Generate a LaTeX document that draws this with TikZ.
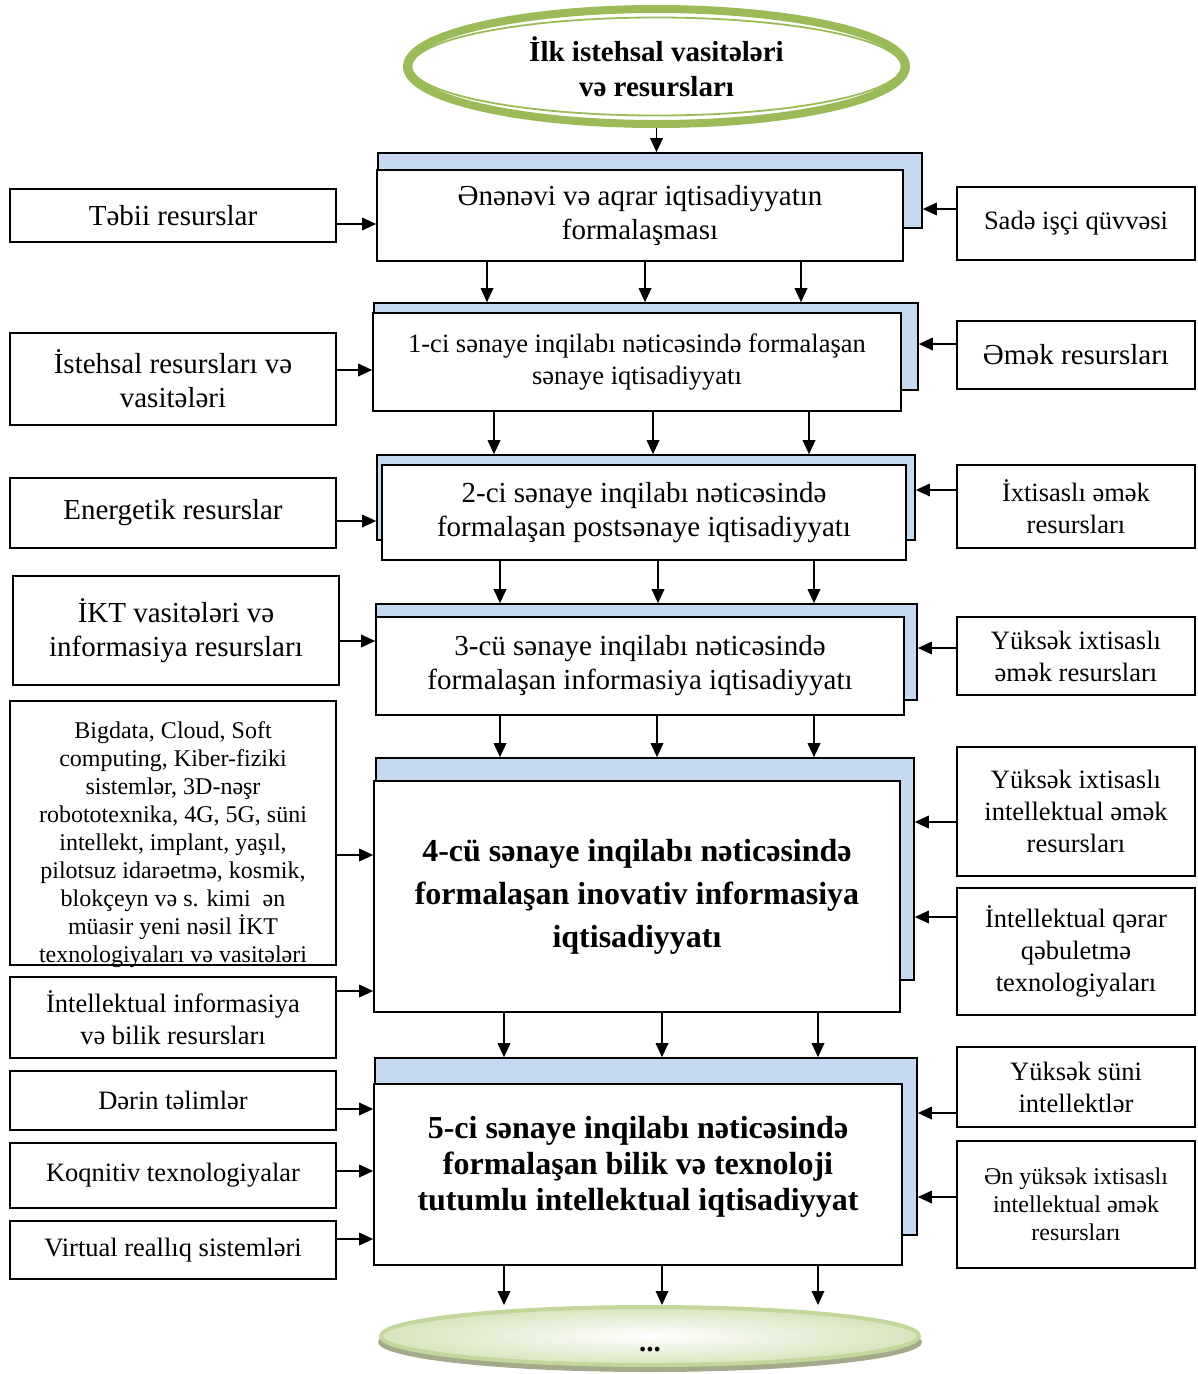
\documentclass[tikz,border=0pt]{standalone}
\usepackage{fontspec}
\setmainfont{Liberation Serif}
\usetikzlibrary{arrows.meta,shapes.geometric}
\definecolor{shadowblue}{HTML}{C6D9F1}
\definecolor{leafgreen}{HTML}{9BBB59}
\definecolor{palegreen}{HTML}{C3D69B}
\definecolor{mintgreen}{HTML}{D7E4BD}
\definecolor{mossgray}{HTML}{A3AB8C}

\begin{document}
\begin{tikzpicture}[x=1pt,y=-1pt,>={Triangle[length=14pt,width=12.5pt]},
  txtbig/.style={font=\fontsize{29}{34}\selectfont},
  txtmid/.style={font=\fontsize{26.5}{32}\selectfont},
  txtsmall/.style={font=\fontsize{24}{28}\selectfont},
  txtbold/.style={font=\fontsize{32}{43}\selectfont\bfseries},
  side/.style={draw,line width=1.6pt,fill=white,align=center,inner sep=0pt,minimum width=326pt},
  res/.style={draw,line width=1.6pt,fill=white,align=center,inner sep=0pt,minimum width=238pt},
  era/.style={draw,line width=1.6pt,fill=white,align=center,inner sep=0pt},
  back/.style={draw,line width=1.6pt,fill=shadowblue,inner sep=0pt},
  ar/.style={->,line width=1.8pt}]
\useasboundingbox (0,0) rectangle (1198,1374);
% --- start ellipse ---
\node[ellipse,draw=leafgreen,line width=8pt,fill=white,minimum width=499pt,minimum height=115pt,
  align=center,font=\fontsize{29}{35}\selectfont\bfseries] (start) at (656.5,66.5)
  {İlk istehsal vasitələri\\və resursları};
\draw[leafgreen,line width=1.8pt] (start.center) ellipse [x radius=245, y radius=49];
% --- central stages (blue back plate + front box) ---
\node[back,minimum width=544pt,minimum height=75pt] (s1) at (650,190.5) {};
\node[era,txtbig,minimum width=526pt,minimum height=91pt] (e1) at (640,215.5)
  {Ənənəvi və aqrar iqtisadiyyatın\\formalaşması};
\node[back,minimum width=544pt,minimum height=87pt] (s2) at (646,346.5) {};
\node[era,txtmid,minimum width=528pt,minimum height=98pt] (e2) at (637,362)
  {1-ci sənaye inqilabı nəticəsində formalaşan\\sənaye iqtisadiyyatı};
\node[back,minimum width=538pt,minimum height=85pt] (s3) at (646,497.5) {};
\node[era,txtbig,minimum width=524pt,minimum height=95pt] (e3) at (644,512.5)
  {2-ci sənaye inqilabı nəticəsində\\formalaşan postsənaye iqtisadiyyatı};
\node[back,minimum width=541pt,minimum height=96pt] (s4) at (646.5,652) {};
\node[era,txtbig,minimum width=528pt,minimum height=98pt] (e4) at (640,666)
  {3-cü sənaye inqilabı nəticəsində\\formalaşan informasiya iqtisadiyyatı};
\node[back,minimum width=538pt,minimum height=222pt] (s5) at (645,869) {};
\node[era,txtbold,minimum width=526pt,minimum height=231pt] (e5) at (637,896.5)
  {4-cü sənaye inqilabı nəticəsində\\formalaşan inovativ informasiya\\iqtisadiyyatı};
\node[back,minimum width=542pt,minimum height=177pt] (s6) at (646,1146.5) {};
\node[era,font=\fontsize{32}{36}\selectfont\bfseries,minimum width=528pt,minimum height=181pt] (e6) at (638,1174.5)
  {5-ci sənaye inqilabı nəticəsində\\formalaşan bilik və texnoloji\\tutumlu intellektual iqtisadiyyat\\[-14pt]\mbox{}};
% --- end ellipse ---
\node[ellipse,fill=mossgray,minimum width=544pt,minimum height=60pt] (endshadow) at (650,1342) {};
\node[ellipse,draw=palegreen,line width=4pt,inner color=white,outer color=mintgreen,
  minimum width=538pt,minimum height=58pt,font=\fontsize{29}{34}\selectfont\bfseries] (finish) at (650,1336)
  {\raisebox{-32pt}{...}};
% --- left inputs ---
\node[side,txtbig,minimum height=53pt] (tebii) at (173,215.5) {Təbii resurslar};
\node[side,txtbig,minimum height=92pt] (istehsal) at (173,379) {İstehsal resursları və\\vasitələri};
\node[side,txtbig,minimum height=70pt] (energetik) at (173,513) {Energetik resurslar};
\node[side,txtbig,minimum height=109pt] (ikt) at (176,630.5) {İKT vasitələri və\\informasiya resursları};
\node[side,txtsmall,minimum height=264pt] (bigdata) at (173,833)
  {Bigdata, Cloud, Soft\\computing, Kiber-fiziki\\sistemlər, 3D-nəşr\\robototexnika, 4G, 5G, süni\\intellekt, implant, yaşıl,\\pilotsuz idarəetmə, kosmik,\\blokçeyn və s. kimi~~ən\\müasir yeni nəsil İKT\\texnologiyaları və vasitələri\\[-46pt]\mbox{}};
\node[side,txtmid,minimum height=81pt] (bilik) at (173,1017.5) {İntellektual informasiya\\və bilik resursları};
\node[side,txtmid,minimum height=59pt] (derin) at (173,1100.5) {Dərin təlimlər};
\node[side,txtmid,minimum height=65pt] (koqnitiv) at (173,1175.5) {Koqnitiv texnologiyalar};
\node[side,txtmid,minimum height=58pt] (virtual) at (173,1250) {Virtual reallıq sistemləri};
% --- right inputs ---
\node[res,txtmid,minimum height=73pt] (sade) at (1076,223.5) {Sadə işçi qüvvəsi};
\node[res,txtbig,minimum height=68pt] (emek) at (1076,355) {Əmək resursları};
\node[res,txtmid,minimum height=83pt] (ixtisasli) at (1076,506.5) {İxtisaslı əmək\\resursları};
\node[res,txtmid,minimum height=78pt] (yuksek) at (1076,656) {Yüksək ixtisaslı\\əmək resursları};
\node[res,txtmid,minimum height=129pt] (intemek) at (1076,811.5) {Yüksək ixtisaslı\\intellektual əmək\\resursları};
\node[res,txtmid,minimum height=127pt] (qerar) at (1076,951.5) {İntellektual qərar\\qəbuletmə\\texnologiyaları};
\node[res,txtmid,minimum height=80pt] (suni) at (1076,1087) {Yüksək süni\\intellektlər};
\node[res,txtsmall,minimum height=127pt] (enyuksek) at (1076,1204.5) {Ən yüksək ixtisaslı\\intellektual əmək\\resursları};
% --- downward flow ---
\draw[ar] (start.south) -- (start.south |- s1.north);
\foreach \x in {487,645,801} \draw[ar] (\x,0 |- e1.south) -- (\x,0 |- s2.north);
\foreach \x in {494,653,809} \draw[ar] (\x,0 |- e2.south) -- (\x,0 |- s3.north);
\foreach \x in {500,658,814} \draw[ar] (\x,0 |- e3.south) -- (\x,0 |- s4.north);
\foreach \x in {500,657,814} \draw[ar] (\x,0 |- e4.south) -- (\x,0 |- s5.north);
\foreach \x in {504,662,818} \draw[ar] (\x,0 |- e5.south) -- (\x,0 |- s6.north);
\foreach \x in {504,662,818} \draw[ar] (\x,0 |- e6.south) -- (\x,0 |- finish.north);
% --- left arrows ---
\draw[ar] (tebii.east |- 0,224) -- (e1.west |- 0,224);
\draw[ar] (istehsal.east |- 0,370) -- (e2.west |- 0,370);
\draw[ar] (energetik.east |- 0,521) -- (s3.west |- 0,521);
\draw[ar] (ikt.east |- 0,641) -- (e4.west |- 0,641);
\draw[ar] (bigdata.east |- 0,855) -- (e5.west |- 0,855);
\draw[ar] (bilik.east |- 0,991) -- (e5.west |- 0,991);
\draw[ar] (derin.east |- 0,1109) -- (e6.west |- 0,1109);
\draw[ar] (koqnitiv.east |- 0,1171) -- (e6.west |- 0,1171);
\draw[ar] (virtual.east |- 0,1239) -- (e6.west |- 0,1239);
% --- right arrows ---
\draw[ar] (sade.west |- 0,209) -- (s1.east |- 0,209);
\draw[ar] (emek.west |- 0,344) -- (s2.east |- 0,344);
\draw[ar] (ixtisasli.west |- 0,490) -- (s3.east |- 0,490);
\draw[ar] (yuksek.west |- 0,648) -- (s4.east |- 0,648);
\draw[ar] (intemek.west |- 0,822) -- (s5.east |- 0,822);
\draw[ar] (qerar.west |- 0,917) -- (s5.east |- 0,917);
\draw[ar] (suni.west |- 0,1113) -- (s6.east |- 0,1113);
\draw[ar] (enyuksek.west |- 0,1197) -- (s6.east |- 0,1197);
\end{tikzpicture}
\end{document}
